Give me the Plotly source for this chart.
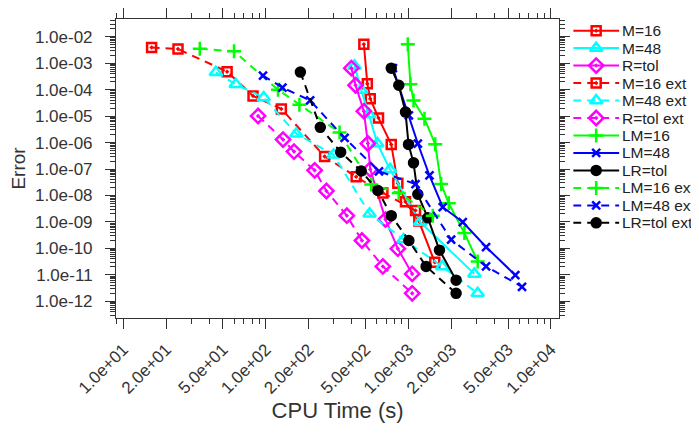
import plotly.graph_objects as go

# ---- data (CPU time in s, error) ----
m16_t = [487, 515, 540, 617, 758, 843, 954, 1183, 1531]
m16_e = [5.2e-3, 1.68e-4, 4.5e-5, 8.5e-6, 8.5e-7, 2.9e-8, 5.8e-9, 1.08e-9, 3.0e-11]

m48_t = [419, 467, 528, 605, 743, 1209, 2904]
m48_e = [7.9e-4, 9.6e-5, 1.16e-5, 9.2e-7, 9.7e-8, 9.9e-10, 1.09e-11]

rtol_t = [398, 426, 487, 520, 540, 691, 843, 1063]
rtol_e = [6.5e-4, 1.47e-4, 1.54e-5, 9.2e-7, 9.7e-8, 1.23e-9, 9.8e-11, 1.09e-11]

m16x_t = [15.8, 24.2, 53.5, 81.3, 128.5, 258.5, 430, 662, 1122]
m16x_e = [3.95e-3, 3.42e-3, 4.79e-4, 5.8e-5, 1.87e-5, 3.0e-7, 5.07e-8, 1.25e-8, 2.73e-9]

m48x_t = [44.6, 61.5, 96.6, 163.7, 299, 534, 924, 1725, 3062]
m48x_e = [4.5e-4, 1.6e-4, 5.0e-5, 2.15e-6, 3.44e-7, 2.05e-9, 2.17e-10, 2.09e-11, 2.0e-12]

rtolx_t = [88.2, 132, 157.6, 220, 266, 370, 472, 662, 1063]
rtolx_e = [1.01e-5, 1.3e-6, 4.55e-7, 8.9e-8, 1.48e-8, 1.73e-9, 1.99e-10, 2.09e-11, 2.0e-12]

lm16_t = [990, 1034, 1086, 1296, 1541, 1697, 1918, 2471, 3062]
lm16_e = [5.2e-3, 1.6e-4, 3.9e-5, 8.0e-6, 8.7e-7, 2.7e-8, 5.06e-9, 3.8e-10, 3.2e-11]

lm48_t = [778, 1007, 1164, 1405, 1741, 2404, 3506, 5623]
lm48_e = [6.5e-4, 1.07e-5, 9.2e-7, 5.7e-8, 3.6e-9, 9.9e-10, 1.13e-10, 9.8e-12]

lrtol_t = [758, 856, 954, 1002, 1086, 1164, 1368, 1651, 2161]
lrtol_e = [6.5e-4, 1.47e-4, 1.42e-5, 8.5e-7, 1.71e-7, 1.11e-8, 1.43e-9, 8.6e-11, 6.3e-12]

lm16x_t = [34.4, 59.8, 121.7, 172, 329, 549, 856, 1482]
lm16x_e = [3.5e-3, 2.82e-3, 1.0e-4, 2.7e-5, 2.4e-6, 2.6e-8, 1.25e-8, 1.73e-9]

lm48x_t = [95.5, 130.7, 204.6, 357, 622, 1122, 1994, 3506, 6266]
lm48x_e = [3.4e-4, 1.2e-4, 3.9e-5, 1.49e-6, 8.2e-8, 2.7e-8, 2.17e-10, 2.09e-11, 3.55e-12]

lrtolx_t = [174.7, 241, 335, 467, 611, 758, 1007, 1332, 2161]
lrtolx_e = [4.6e-4, 3.76e-6, 4.33e-7, 8.4e-8, 1.55e-8, 1.73e-9, 1.99e-10, 2.09e-11, 2.0e-12]

x_ticks = [10, 20, 50, 100, 200, 500, 1000, 2000, 5000, 10000]
y_ticks = [1e-2, 1e-3, 1e-4, 1e-5, 1e-6, 1e-7, 1e-8, 1e-9, 1e-10, 1e-11, 1e-12]

RED, CYAN, MAG, GRN, BLU, BLK = "#FF0000", "#00FFFF", "#FF00FF", "#00FF00", "#0000FF", "#000000"
DASH = "8px,6px"

series = [
    ("M=16", m16_t, m16_e, RED, "solid", "square-open-dot", 9),
    ("M=48", m48_t, m48_e, CYAN, "solid", "triangle-up-open", 11),
    ("R=tol", rtol_t, rtol_e, MAG, "solid", "diamond-open-dot", 11),
    ("M=16 ext", m16x_t, m16x_e, RED, DASH, "square-open-dot", 9),
    ("M=48 ext", m48x_t, m48x_e, CYAN, DASH, "triangle-up-open", 11),
    ("R=tol ext", rtolx_t, rtolx_e, MAG, DASH, "diamond-open-dot", 11),
    ("LM=16", lm16_t, lm16_e, GRN, "solid", "cross-thin", 10),
    ("LM=48", lm48_t, lm48_e, BLU, "solid", "x-thin", 8),
    ("LR=tol", lrtol_t, lrtol_e, BLK, "solid", "circle", 9),
    ("LM=16 ext", lm16x_t, lm16x_e, GRN, DASH, "cross-thin", 10),
    ("LM=48 ext", lm48x_t, lm48x_e, BLU, DASH, "x-thin", 8),
    ("LR=tol ext", lrtolx_t, lrtolx_e, BLK, DASH, "circle", 9),
]

# ---- layout geometry (figure pixels; the page adds an 8px body margin) ----
W, H = 691, 426
L, T, B = 108, 2, 116
PLOT_R = 552                      # right edge of the data frame
AREA_W = W - L                    # plotting area spans to the right edge
MAIN_DOM = (PLOT_R - L) / AREA_W
LEG_X0 = 566                      # left of legend line samples
LEG_ROW0, LEG_DY = 14, 18         # first legend row centre, row pitch
LEG_LINE = 46                     # sample length
PLOT_H = H - T - B

fig = go.Figure()
for name, xs, ys, col, dash, sym, sz in series:
    fig.add_trace(go.Scatter(
        x=xs, y=ys, name=name, mode="lines+markers", showlegend=False,
        line=dict(color=col, width=2, dash=dash),
        marker=dict(symbol=sym, size=sz, color=col, line=dict(color=col, width=2.5)),
        xaxis="x", yaxis="y",
    ))

# ---- hand-built legend on a hidden auxiliary axis (units: px across, rows down) ----
annotations = []
for i, (name, xs, ys, col, dash, sym, sz) in enumerate(series):
    fig.add_trace(go.Scatter(
        x=[0, LEG_LINE], y=[-i, -i], mode="lines", showlegend=False, hoverinfo="skip",
        line=dict(color=col, width=2, dash=dash), xaxis="x2", yaxis="y2", cliponaxis=False,
    ))
    fig.add_trace(go.Scatter(
        x=[LEG_LINE / 2], y=[-i], mode="markers", showlegend=False, hoverinfo="skip",
        marker=dict(symbol=sym, size=sz, color=col, line=dict(color=col, width=2.5)),
        xaxis="x2", yaxis="y2", cliponaxis=False,
    ))
    annotations.append(dict(
        x=LEG_LINE + 1, y=-i, xref="x2", yref="y2", text=name, showarrow=False,
        xanchor="left", yanchor="middle", font=dict(size=15.5, color="#222222"),
    ))

minor_x = [m * 10 ** k for k in range(0, 4) for m in range(3, 10) if m != 5]
minor_y = [m * 10.0 ** k for k in range(-13, -1) for m in range(2, 10)]

AX = "#333333"
FONT = "Liberation Sans, Arial, sans-serif"

leg_top = (LEG_ROW0 - T) / LEG_DY                 # row value at top of frame
leg_bot = -((T + PLOT_H) - LEG_ROW0) / LEG_DY     # row value at bottom of frame

fig.update_layout(
    width=W, height=H,
    paper_bgcolor="white", plot_bgcolor="white",
    margin=dict(l=L, r=0, t=T, b=B),
    font=dict(family=FONT, color="#333333"),
    showlegend=False,
    annotations=annotations,
    xaxis=dict(
        domain=[0, MAIN_DOM],
        type="log", range=[0.949, 4.058],
        tickvals=x_ticks, ticktext=[f"{v:.1e}" for v in x_ticks],
        tickangle=-45, tickfont=dict(size=17, color="#333333"), ticklabelstandoff=4,
        ticks="outside", ticklen=10, tickcolor=AX, tickwidth=1,
        showline=True, linecolor=AX, linewidth=1, mirror="ticks",
        showgrid=False, zeroline=False,
        minor=dict(tickvals=minor_x, ticks="outside", ticklen=5, tickcolor=AX, showgrid=False),
        title=dict(text="CPU Time (s)", font=dict(size=22, color="#333333"), standoff=6),
    ),
    yaxis=dict(
        type="log", range=[-12.63, -1.33],
        tickvals=y_ticks, ticktext=[f"{v:.1e}" for v in y_ticks],
        tickfont=dict(size=17, color="#333333"), ticklabelstandoff=9,
        ticks="outside", ticklen=10, tickcolor=AX, tickwidth=1,
        showline=True, linecolor=AX, linewidth=1, mirror="ticks",
        showgrid=False, zeroline=False,
        minor=dict(tickvals=minor_y, ticks="outside", ticklen=5, tickcolor=AX, showgrid=False),
        title=dict(text="Error", font=dict(size=19, color="#333333"), standoff=6),
    ),
    xaxis2=dict(domain=[(LEG_X0 - L) / AREA_W, 1], range=[0, W - LEG_X0],
                visible=False, anchor="y2", fixedrange=True),
    yaxis2=dict(domain=[0, 1], range=[leg_bot, leg_top],
                visible=False, anchor="x2", fixedrange=True),
)

fig.write_html("out.html")
